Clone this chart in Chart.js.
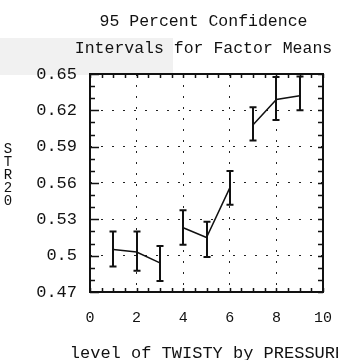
<!DOCTYPE html>
<html>
<head>
<meta charset="utf-8">
<script src="https://cdn.jsdelivr.net/npm/chart.js@4/dist/chart.umd.min.js"></script>
<style>
  html, body { margin: 0; padding: 0; background: #ffffff; }
  #wrap { width: 338px; height: 360px; }
</style>
</head>
<body>
<div id="wrap"><canvas id="c" width="338" height="360"></canvas></div>
<script>
// Factor levels (TWIST x PRESSURE cells) and their 95% intervals for STR20
const levels = [1, 2, 3, 4, 5, 6, 7, 8, 9];
const means  = [0.505, 0.503, 0.494, 0.523, 0.515, 0.556, 0.608, 0.629, 0.632];
const lower  = [0.491, 0.4875, 0.479, 0.509, 0.499, 0.542, 0.595, 0.612, 0.620];
const upper  = [0.520, 0.520, 0.508, 0.5375, 0.528, 0.570, 0.6225, 0.6475, 0.648];
// each TWIST level spans three consecutive PRESSURE cells
const twistGroups = [[0, 3], [3, 6], [6, 9]];

const xTicks = [0, 2, 4, 6, 8, 10];
const yTicks = [0.47, 0.5, 0.53, 0.56, 0.59, 0.62, 0.65];

const titleLines = ['95 Percent Confidence', 'Intervals for Factor Means'];
const yLabel = 'STR20';
const xLabel = 'level of TWISTY by PRESSURE';

const MONO = '"Liberation Mono", "DejaVu Sans Mono", monospace';

const datasets = twistGroups.map(([a, b]) => ({
  data: levels.slice(a, b).map((x, i) => ({ x: x, y: means[a + i] })),
  borderColor: '#111',
  borderWidth: 1.5,
  pointRadius: 0,
  tension: 0,
  fill: false
}));

const decorations = {
  id: 'decorations',
  beforeDraw(chart) {
    const ctx = chart.ctx;
    ctx.save();
    ctx.fillStyle = '#f1f1f1';
    ctx.fillRect(0, 38, 173, chart.chartArea.top - 37);
    ctx.restore();
  },
  afterDatasetsDraw(chart) {
    const ctx = chart.ctx;
    const xs = chart.scales.x, ys = chart.scales.y;
    const area = chart.chartArea;
    ctx.save();
    ctx.strokeStyle = '#111';
    ctx.lineWidth = 2;
    // confidence interval bars with caps
    levels.forEach((lv, i) => {
      const px = Math.round(xs.getPixelForValue(lv));
      const pTop = ys.getPixelForValue(upper[i]);
      const pBot = ys.getPixelForValue(lower[i]);
      ctx.beginPath();
      ctx.moveTo(px, pTop); ctx.lineTo(px, pBot);
      ctx.moveTo(px - 3.5, pTop); ctx.lineTo(px + 3.5, pTop);
      ctx.moveTo(px - 3.5, pBot); ctx.lineTo(px + 3.5, pBot);
      ctx.stroke();
    });
    // frame
    ctx.lineWidth = 2;
    ctx.strokeRect(area.left, area.top, area.right - area.left, area.bottom - area.top);
    // inward minor ticks
    ctx.lineWidth = 1.5;
    ctx.beginPath();
    for (let k = 0; k <= 18; k++) {
      const v = yTicks[0] + k * 0.01;
      const py = Math.round(ys.getPixelForValue(v)) + 0.5;
      const major = k % 3 === 0;
      ctx.moveTo(area.left, py); ctx.lineTo(area.left + (major ? 9 : 5), py);
      ctx.moveTo(area.right, py); ctx.lineTo(area.right - 5, py);
    }
    for (let k = 0; k <= 20; k++) {
      const v = k * 0.5;
      const px = Math.round(xs.getPixelForValue(v)) + 0.5;
      ctx.moveTo(px, area.bottom); ctx.lineTo(px, area.bottom - 4);
      ctx.moveTo(px, area.top); ctx.lineTo(px, area.top + 4);
    }
    ctx.stroke();
    ctx.restore();
  },
  afterDraw(chart) {
    const ctx = chart.ctx;
    const area = chart.chartArea;
    ctx.save();
    ctx.fillStyle = '#111';
    ctx.textAlign = 'center';
    ctx.textBaseline = 'middle';
    ctx.font = '16.5px ' + MONO;
    const cx = (area.left + area.right) / 2 - 3;
    ctx.fillText(titleLines[0], cx, 22);
    ctx.fillText(titleLines[1], cx, 49);
    // horizontal axis title, running past the right edge
    ctx.font = '17px ' + MONO;
    ctx.fillText(xLabel, (area.left + area.right) / 2 + 1, 353);
    // stacked vertical axis label
    ctx.font = '14px ' + MONO;
    yLabel.split('').forEach((ch, i) => ctx.fillText(ch, 8, 149 + i * 13));
    ctx.restore();
  }
};

new Chart(document.getElementById('c'), {
  type: 'line',
  data: { datasets },
  options: {
    responsive: false,
    animation: false,
    layout: { padding: { left: 0, right: 15, top: 74, bottom: 0 } },
    plugins: { legend: { display: false }, tooltip: { enabled: false }, title: { display: false } },
    scales: {
      x: {
        type: 'linear',
        min: 0, max: 10,
        afterBuildTicks(s) { s.ticks = xTicks.map(v => ({ value: v })); },
        afterFit(s) { s.height = 68; s.paddingLeft = 0; s.paddingRight = 0; },
        grid: { drawTicks: false, color: '#222', lineWidth: 1 },
        border: { display: false, dash: [2, 9] },
        ticks: {
          color: '#111',
          padding: 17,
          maxRotation: 0,
          autoSkip: false,
          font: { family: MONO, size: 15 },
          callback: v => String(v)
        },
        title: { display: false }
      },
      y: {
        type: 'linear',
        min: yTicks[0], max: yTicks[yTicks.length - 1],
        afterBuildTicks(s) { s.ticks = yTicks.map(v => ({ value: v })); },
        afterFit(s) { s.width = 90; },
        grid: { drawTicks: false, color: '#222', lineWidth: 1 },
        border: { display: false, dash: [2, 9] },
        ticks: {
          color: '#111',
          padding: 13,
          autoSkip: false,
          font: { family: MONO, size: 17 },
          callback: v => String(+v.toFixed(2))
        }
      }
    }
  },
  plugins: [decorations]
});
</script>
</body>
</html>
